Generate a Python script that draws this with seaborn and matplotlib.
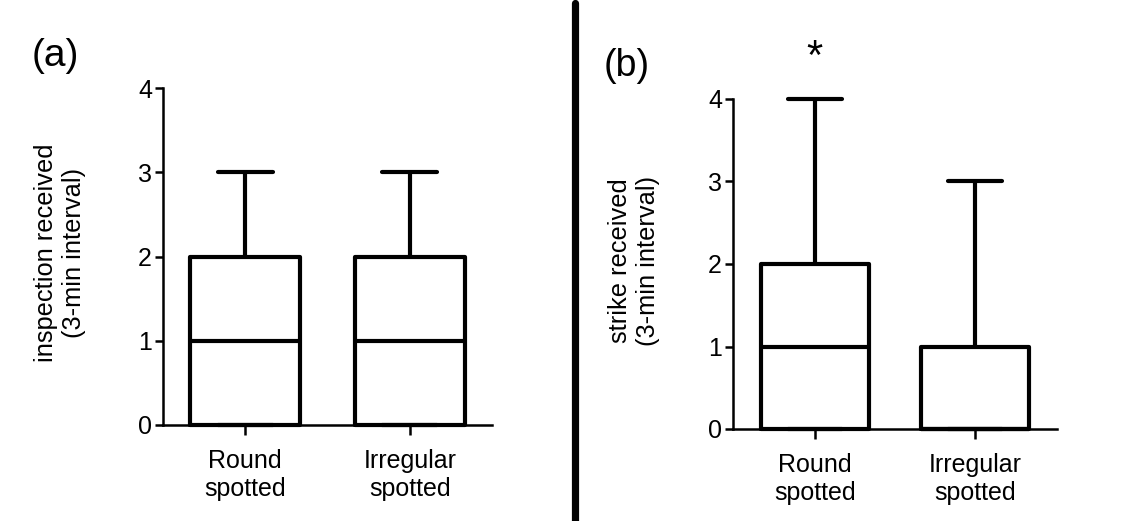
import matplotlib
matplotlib.use("Agg")
import matplotlib.pyplot as plt
from matplotlib.lines import Line2D
import seaborn as sns
import pandas as pd

# ---- data (values chosen so that min/Q1/median/Q3/max match the figure) ----
categories = ["Round\nspotted", "Irregular\nspotted"]
inspection_round = [0, 0, 0, 1, 1, 2, 2, 3]
inspection_irregular = [0, 0, 0, 1, 1, 2, 2, 3]
strike_round = [0, 0, 0, 1, 1, 2, 2, 4]
strike_irregular = [0, 0, 0, 0, 0, 1, 1, 3]
yticks = [0, 1, 2, 3, 4]

def long_df(a, b):
    return pd.DataFrame({
        "group": [categories[0]] * len(a) + [categories[1]] * len(b),
        "value": list(a) + list(b),
    })

sns.set_style("ticks")
plt.rcParams["font.family"] = ["Liberation Sans", "DejaVu Sans"]
for k in ("text.color", "axes.labelcolor", "xtick.color", "ytick.color",
          "axes.edgecolor"):
    plt.rcParams[k] = "black"

W, H = 1127, 521
fig = plt.figure(figsize=(W / 100, H / 100), dpi=100)

def px_axes(x0, x1, y_top, y_bot):
    return fig.add_axes([x0 / W, 1 - y_bot / H, (x1 - x0) / W, (y_bot - y_top) / H])

ax_a = px_axes(163, 492, 88, 425)
ax_b = px_axes(733, 1057, 99, 429)

panels = [
    (ax_a, long_df(inspection_round, inspection_irregular),
     "inspection received\n(3-min interval)", (-0.5, 1.5), -0.313),
    (ax_b, long_df(strike_round, strike_irregular),
     "strike received\n(3-min interval)", (-0.51, 1.51), -0.305),
]

for ax, df, ylab, xlim, labx in panels:
    sns.boxplot(data=df, x="group", y="value", order=categories, ax=ax,
                whis=(0, 100), width=0.67, fill=False, color="black",
                linecolor="black", linewidth=3, showfliers=False)
    ax.set_ylim(0, 4)
    ax.set_xlim(*xlim)
    ax.set_yticks(yticks)
    ax.set_yticklabels([str(t) for t in yticks])
    for art in ax.lines + ax.patches:
        art.set_clip_on(False)
    sns.despine(ax=ax)
    for s in ("left", "bottom"):
        ax.spines[s].set_linewidth(1.8)
        ax.spines[s].set_color("black")
    ax.tick_params(axis="y", length=6, width=1.8, pad=2, labelsize=18,
                   colors="black")
    ax.tick_params(axis="x", length=7.5, width=1.8, pad=10, labelsize=18,
                   colors="black")
    ax.set_xlabel("")
    ax.set_ylabel(ylab, fontsize=18.3, linespacing=1.2, va="center",
                  ha="center")
    ax.yaxis.set_label_coords(labx, 0.51)

# significance star over Round spotted in panel (b)
ax_b.text(0, 1.09, "*", transform=ax_b.get_xaxis_transform(), ha="center",
          va="baseline", fontsize=30)

# panel letters
fig.text(32 / W, 1 - 66 / H, "(a)", fontsize=28, ha="left", va="baseline")
fig.text(604 / W, 1 - 76 / H, "(b)", fontsize=27, ha="left", va="baseline")

# thick separator line
fig.add_artist(Line2D([575 / W, 575 / W], [0, 1 - 3 / H],
                      transform=fig.transFigure, color="black", lw=5.2))

fig.savefig("out.png", dpi=100, facecolor="white")
